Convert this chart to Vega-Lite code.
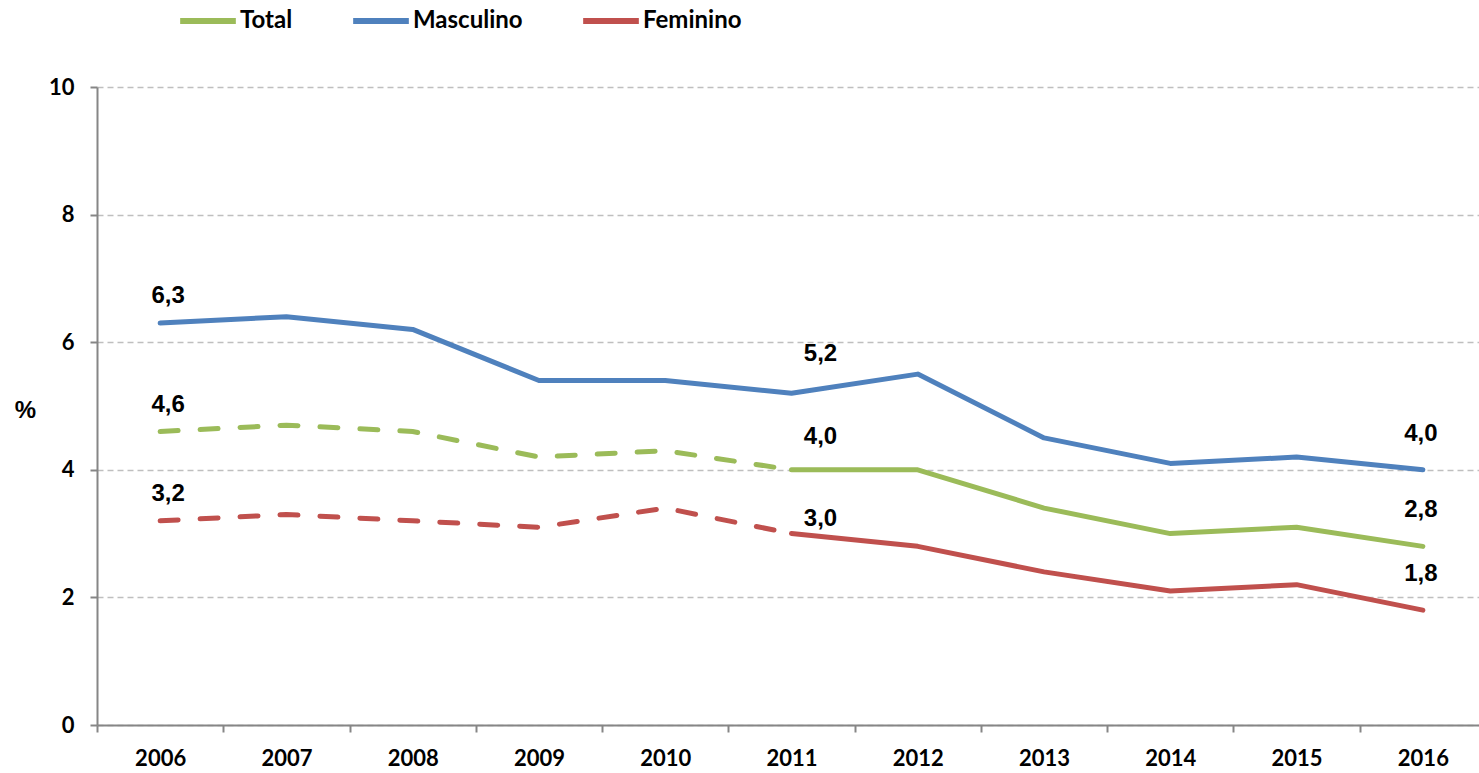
{
  "$schema": "https://vega.github.io/schema/vega-lite/v6.json",
  "width": 1389,
  "height": 638,
  "autosize": {"type": "none"},
  "padding": {"left": 97, "top": 87, "right": -7, "bottom": 48},
  "background": "white",
  "config": {
    "view": {"stroke": null},
    "locale": {"number": {"decimal": ",", "thousands": ".", "grouping": [3], "currency": ["", " €"]}}
  },
  "data": {
    "values": [
      {"year": "2006", "series": "Total", "value": 4.6},
      {"year": "2007", "series": "Total", "value": 4.7},
      {"year": "2008", "series": "Total", "value": 4.6},
      {"year": "2009", "series": "Total", "value": 4.2},
      {"year": "2010", "series": "Total", "value": 4.3},
      {"year": "2011", "series": "Total", "value": 4.0},
      {"year": "2012", "series": "Total", "value": 4.0},
      {"year": "2013", "series": "Total", "value": 3.4},
      {"year": "2014", "series": "Total", "value": 3.0},
      {"year": "2015", "series": "Total", "value": 3.1},
      {"year": "2016", "series": "Total", "value": 2.8},
      {"year": "2006", "series": "Masculino", "value": 6.3},
      {"year": "2007", "series": "Masculino", "value": 6.4},
      {"year": "2008", "series": "Masculino", "value": 6.2},
      {"year": "2009", "series": "Masculino", "value": 5.4},
      {"year": "2010", "series": "Masculino", "value": 5.4},
      {"year": "2011", "series": "Masculino", "value": 5.2},
      {"year": "2012", "series": "Masculino", "value": 5.5},
      {"year": "2013", "series": "Masculino", "value": 4.5},
      {"year": "2014", "series": "Masculino", "value": 4.1},
      {"year": "2015", "series": "Masculino", "value": 4.2},
      {"year": "2016", "series": "Masculino", "value": 4.0},
      {"year": "2006", "series": "Feminino", "value": 3.2},
      {"year": "2007", "series": "Feminino", "value": 3.3},
      {"year": "2008", "series": "Feminino", "value": 3.2},
      {"year": "2009", "series": "Feminino", "value": 3.1},
      {"year": "2010", "series": "Feminino", "value": 3.4},
      {"year": "2011", "series": "Feminino", "value": 3.0},
      {"year": "2012", "series": "Feminino", "value": 2.8},
      {"year": "2013", "series": "Feminino", "value": 2.4},
      {"year": "2014", "series": "Feminino", "value": 2.1},
      {"year": "2015", "series": "Feminino", "value": 2.2},
      {"year": "2016", "series": "Feminino", "value": 1.8}
    ]
  },
  "encoding": {
    "x": {
      "field": "year", "type": "ordinal",
      "scale": {"type": "band", "paddingInner": 0, "paddingOuter": 0},
      "axis": {
        "title": null, "labelAngle": 0, "tickBand": "extent",
        "domainColor": "#868686", "domainWidth": 2,
        "tickColor": "#868686", "tickWidth": 2, "tickSize": 7,
        "labelFont": "Lato", "labelFontWeight": "bold", "labelFontSize": 22, "labelColor": "black",
        "labelPadding": 16, "grid": false
      }
    },
    "y": {
      "field": "value", "type": "quantitative",
      "scale": {"domain": [0, 10], "nice": false, "zero": true},
      "axis": {
        "values": [0, 2, 4, 6, 8, 10],
        "title": "%", "titleAngle": 0, "titleX": -72, "titleY": 323,
        "titleFont": "Liberation Sans", "titleFontWeight": "bold", "titleFontSize": 24, "titleColor": "black",
        "titleAlign": "center", "titleBaseline": "middle",
        "domainColor": "#868686", "domainWidth": 2,
        "tickColor": "#868686", "tickWidth": 2, "tickSize": 7,
        "labelFont": "Lato", "labelFontWeight": "bold", "labelFontSize": 22, "labelColor": "black",
        "labelPadding": 16,
        "grid": true, "gridColor": "#bfbfbf", "gridDash": [6, 4], "gridWidth": 1.5
      }
    }
  },
  "layer": [
    {
      "transform": [{"filter": "datum.series == 'Masculino' || toNumber(datum.year) >= 2011"}],
      "mark": {"type": "line", "strokeWidth": 5, "strokeCap": "round", "strokeJoin": "round"},
      "encoding": {
        "color": {
          "field": "series", "type": "nominal",
          "scale": {"domain": ["Total", "Masculino", "Feminino"], "range": ["#9bbb59", "#4f81bd", "#c0504d"]},
          "legend": {
            "title": null, "orient": "none", "direction": "horizontal",
            "legendX": 80, "legendY": -97,
            "symbolType": "stroke", "symbolSize": 3100, "symbolStrokeWidth": 6,
            "labelFont": "Lato", "labelFontWeight": "bold", "labelFontSize": 24, "labelColor": "black",
            "labelOffset": 1, "columnPadding": 48
          }
        }
      }
    },
    {
      "transform": [{"filter": "datum.series != 'Masculino' && toNumber(datum.year) <= 2011"}],
      "mark": {"type": "line", "strokeWidth": 5, "strokeCap": "round", "strokeDash": [18, 22]},
      "encoding": {
        "color": {"field": "series", "type": "nominal", "legend": null}
      }
    },
    {
      "transform": [{"filter": "datum.year == '2006'"}],
      "mark": {"type": "text", "font": "Liberation Sans", "fontWeight": "bold", "fontSize": 24, "color": "black", "dx": 8, "dy": -27},
      "encoding": {"text": {"field": "value", "type": "quantitative", "format": ".1f"}}
    },
    {
      "transform": [{"filter": "datum.year == '2016'"}],
      "mark": {"type": "text", "font": "Liberation Sans", "fontWeight": "bold", "fontSize": 24, "color": "black", "dx": -2, "dy": -36},
      "encoding": {"text": {"field": "value", "type": "quantitative", "format": ".1f"}}
    },
    {
      "transform": [{"filter": "datum.year == '2011' && datum.series == 'Masculino'"}],
      "mark": {"type": "text", "font": "Liberation Sans", "fontWeight": "bold", "fontSize": 24, "color": "black", "dx": 29, "dy": -39},
      "encoding": {"text": {"field": "value", "type": "quantitative", "format": ".1f"}}
    },
    {
      "transform": [{"filter": "datum.year == '2011' && datum.series == 'Total'"}],
      "mark": {"type": "text", "font": "Liberation Sans", "fontWeight": "bold", "fontSize": 24, "color": "black", "dx": 29, "dy": -33},
      "encoding": {"text": {"field": "value", "type": "quantitative", "format": ".1f"}}
    },
    {
      "transform": [{"filter": "datum.year == '2011' && datum.series == 'Feminino'"}],
      "mark": {"type": "text", "font": "Liberation Sans", "fontWeight": "bold", "fontSize": 24, "color": "black", "dx": 29, "dy": -15},
      "encoding": {"text": {"field": "value", "type": "quantitative", "format": ".1f"}}
    }
  ]
}
